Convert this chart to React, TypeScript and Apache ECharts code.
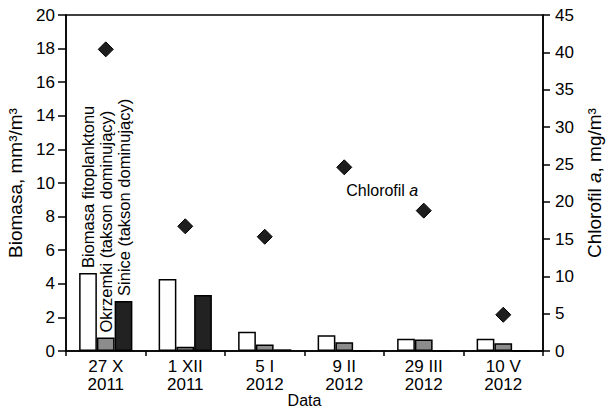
import React, { useEffect, useRef } from "react";
import * as echarts from "echarts";

const categories = ["27 X\n2011", "1 XII\n2011", "5 I\n2012", "9 II\n2012", "29 III\n2012", "10 V\n2012"];
const biomasa = [4.64, 4.28, 1.15, 0.94, 0.73, 0.73];
const okrzemki = [0.8, 0.26, 0.38, 0.52, 0.68, 0.46];
const sinice = [2.98, 3.33, 0.1, 0, 0, 0];
const chlorofil = [40.4, 16.7, 15.3, 24.6, 18.8, 4.85];
const barNames = ["Biomasa fitoplanktonu", "Okrzemki (takson dominujący)", "Sinice (takson dominujący)"];

const FONT = "'Liberation Sans', Arial, sans-serif";

function withFirstLabel(values: number[], text: string) {
  return values.map((v, i) =>
    i === 0
      ? {
          value: v,
          label: {
            show: true,
            position: "top",
            rotate: 90,
            align: "left",
            verticalAlign: "middle",
            distance: 5,
            formatter: text,
            fontSize: 16.5,
            color: "#000",
            fontFamily: FONT,
          },
        }
      : { value: v }
  );
}

export default function App() {
  const ref = useRef<HTMLDivElement>(null);
  useEffect(() => {
    const chart = echarts.init(ref.current!, null, { renderer: "svg" });
    chart.setOption({
      animation: false,
      textStyle: { fontFamily: FONT, color: "#000" },
      grid: {
        left: 66,
        right: 64,
        top: 15,
        bottom: 63,
        outerBoundsMode: "none",
        containLabel: false,
        show: true,
        borderColor: "#000",
        borderWidth: 1.5,
        backgroundColor: "transparent",
      },
      xAxis: {
        type: "category",
        data: categories,
        boundaryGap: true,
        axisLine: { lineStyle: { color: "#000", width: 1.5 } },
        axisTick: { show: true, length: 5, lineStyle: { color: "#000", width: 1.5 } },
        axisLabel: { color: "#000", fontSize: 17, lineHeight: 18, margin: 6, fontFamily: FONT },
        name: "Data",
        nameLocation: "middle",
        nameMoveOverlap: false,
        nameGap: 41,
        nameTextStyle: { fontSize: 16, lineHeight: 16, color: "#000", fontFamily: FONT },
      },
      yAxis: [
        {
          type: "value",
          min: 0,
          max: 20,
          interval: 2,
          position: "left",
          splitLine: { show: false },
          axisLine: { show: true, lineStyle: { color: "#000", width: 1.5 } },
          axisTick: { show: true, length: 8, lineStyle: { color: "#000", width: 1.5 } },
          axisLabel: { color: "#000", fontSize: 17, margin: 11, fontFamily: FONT },
          name: "Biomasa, mm³/m³",
          nameLocation: "middle",
          nameGap: 34,
          nameTextStyle: { fontSize: 19, color: "#000", fontFamily: FONT },
        },
        {
          type: "value",
          min: 0,
          max: 45,
          interval: 5,
          position: "right",
          splitLine: { show: false },
          axisLine: { show: true, lineStyle: { color: "#000", width: 1.5 } },
          axisTick: { show: true, length: 7, lineStyle: { color: "#000", width: 1.5 } },
          axisLabel: { color: "#000", fontSize: 17, margin: 12, fontFamily: FONT },
          name: "{n|Chlorofil }{i|a}{n|, mg/m³}",
          nameLocation: "middle",
          nameGap: 37,
          nameTextStyle: {
            fontSize: 19,
            color: "#000",
            fontFamily: FONT,
            rich: {
              n: { fontSize: 19, color: "#000", fontFamily: FONT },
              i: { fontSize: 19, color: "#000", fontFamily: FONT, fontStyle: "italic" },
            },
          },
        },
      ],
      series: [
        {
          type: "bar",
          name: barNames[0],
          data: withFirstLabel(biomasa, barNames[0]),
          barGap: "0%",
          barCategoryGap: "33%",
          itemStyle: { color: "#fff", borderColor: "#000", borderWidth: 1.5 },
        },
        {
          type: "bar",
          name: barNames[1],
          data: withFirstLabel(okrzemki, barNames[1]),
          barGap: "0%",
          barCategoryGap: "33%",
          itemStyle: { color: "#8c8c8c", borderColor: "#000", borderWidth: 1.5 },
        },
        {
          type: "bar",
          name: barNames[2],
          data: withFirstLabel(sinice, barNames[2]),
          barGap: "0%",
          barCategoryGap: "33%",
          itemStyle: { color: "#222", borderColor: "#000", borderWidth: 1.5 },
        },
        {
          type: "scatter",
          name: "Chlorofil a",
          yAxisIndex: 1,
          symbol: "diamond",
          symbolSize: [15, 15],
          itemStyle: { color: "#1e1e1e", borderColor: "#000", borderWidth: 1, opacity: 1 },
          data: chlorofil.map((v, i) =>
            i === 3
              ? {
                  value: v,
                  label: {
                    show: true,
                    position: "bottom",
                    offset: [38, 2],
                    formatter: "{n|Chlorofil }{i|a}",
                    rich: {
                      n: { fontSize: 16, color: "#000", fontFamily: FONT },
                      i: { fontSize: 16, color: "#000", fontFamily: FONT, fontStyle: "italic" },
                    },
                  },
                }
              : { value: v }
          ),
        },
      ],
    });
    return () => chart.dispose();
  }, []);
  return <div ref={ref} style={{ width: 607, height: 414, position: "absolute", left: 0, top: 0, background: "#fff" }} />;
}
